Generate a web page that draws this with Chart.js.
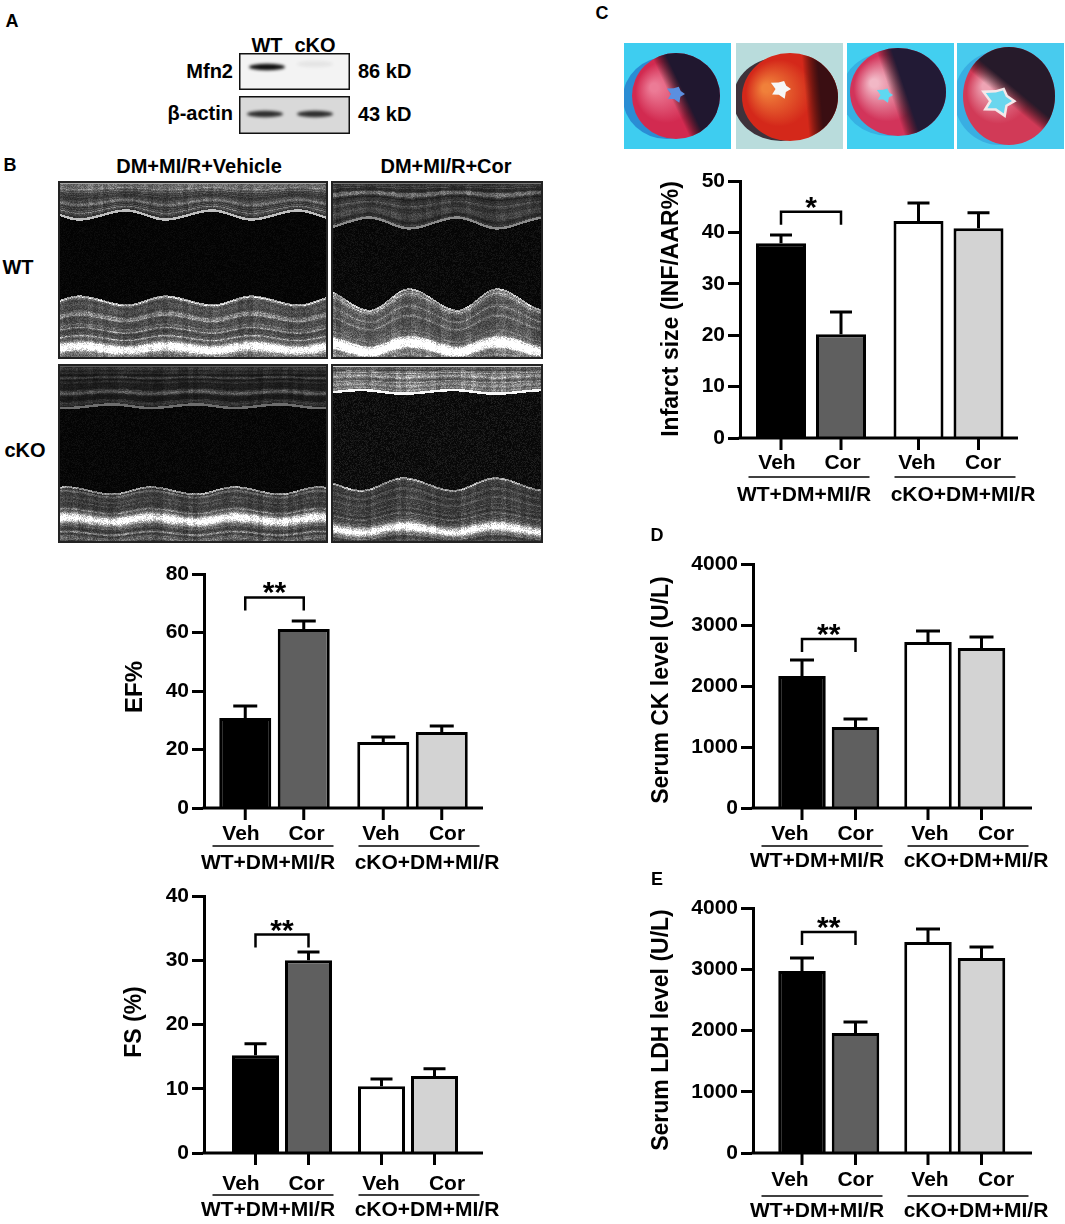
<!DOCTYPE html>
<html>
<head>
<meta charset="utf-8">
<script src="https://cdn.jsdelivr.net/npm/chart.js@4.4.1/dist/chart.umd.min.js"></script>
<style>
  body { margin: 0; background: #fff; width: 1065px; height: 1224px; position: relative; overflow: hidden;
         font-family: "Liberation Sans", Arial, sans-serif; font-weight: bold; color: #000; }
  .t { position: absolute; white-space: nowrap; line-height: 1; }
  canvas { position: absolute; }
</style>
</head>
<body>
<canvas id="infarctChart"></canvas>
<canvas id="efChart"></canvas>
<canvas id="fsChart"></canvas>
<canvas id="ckChart"></canvas>
<canvas id="ldhChart"></canvas>
<script>
const FONT = '"Liberation Sans", Arial, sans-serif';

// groups and treatments shared by every bar panel
const groups = ["WT+DM+MI/R", "cKO+DM+MI/R"];
const treatments = ["Veh", "Cor"];
// bar order: WT-Veh, WT-Cor, cKO-Veh, cKO-Cor
const barColors = ["#000000", "#5f5f5f", "#ffffff", "#d3d3d3"];

const infarctMean = [37.9, 20.2, 42.2, 40.8];
const infarctSem = [1.6, 4.3, 3.5, 3.0];
const infarctTicks = [0, 10, 20, 30, 40, 50];

const efMean = [30.8, 61.2, 22.6, 26.0];
const efSem = [4.1, 2.7, 1.7, 2.0];
const efTicks = [0, 20, 40, 60, 80];

const fsMean = [15.2, 30.0, 10.4, 12.0];
const fsSem = [1.8, 1.3, 1.1, 1.1];
const fsTicks = [0, 10, 20, 30, 40];

const ckMean = [2164, 1328, 2721, 2623];
const ckSem = [262, 131, 181, 180];
const ckTicks = [0, 1000, 2000, 3000, 4000];

const ldhMean = [2971, 1959, 3445, 3184];
const ldhSem = [213, 180, 212, 179];
const ldhTicks = [0, 1000, 2000, 3000, 4000];

// text helper: a = 'c' centre, 'r' right edge, 'l' left edge
function txt(str, x, y, size, a) {
  const d = document.createElement("div");
  d.className = "t";
  d.textContent = str;
  d.style.fontSize = size + "px";
  d.style.left = x + "px";
  d.style.top = y + "px";
  const tx = a === "r" ? "-100%" : a === "l" ? "0" : "-50%";
  d.style.transform = "translate(" + tx + ",-50%)";
  document.body.appendChild(d);
}

function makeCanvas(x, y, w, h) {
  const cv = document.createElement("canvas");
  cv.width = w; cv.height = h;
  cv.style.left = x + "px"; cv.style.top = y + "px";
  document.body.appendChild(cv);
  return cv;
}

function rng(seed) {
  let s = seed;
  return () => { s = (s * 1103515245 + 12345) & 0x7fffffff; return s / 0x7fffffff; };
}

// ---------- panel letters and headings ----------
txt("A", 12, 21, 18, "c");
txt("B", 10, 165, 18, "c");
txt("C", 602, 13, 18, "c");
txt("D", 657, 535, 18, "c");
txt("E", 657, 879, 18, "c");

// ---------- A: western blot ----------
txt("WT", 267, 45, 20, "c");
txt("cKO", 315, 45, 20, "c");
txt("Mfn2", 233, 71, 20, "r");
txt("\u03b2-actin", 233, 113, 20, "r");
txt("86 kD", 358, 71, 20, "l");
txt("43 kD", 358, 114, 20, "l");
(function drawBlot() {
  const boxes = [
    { y: 53, h: 37, bg: "#f3f3f3", bands: [[28, 14, 1.0], [76, 11, 0.06]] },
    { y: 96, h: 38, bg: "#d9d9d9", bands: [[26, 18, 0.85], [76, 18, 0.85]] }
  ];
  boxes.forEach(b => {
    const cv = makeCanvas(239, b.y, 111, b.h);
    const c = cv.getContext("2d");
    c.fillStyle = b.bg; c.fillRect(0, 0, 111, b.h);
    c.filter = "blur(1.6px)";
    b.bands.forEach(([bx, by, a]) => {
      c.fillStyle = "rgba(15,15,15," + a + ")";
      c.beginPath(); c.ellipse(bx, by, 18, 3.2, 0, 0, Math.PI * 2); c.fill();
    });
    c.filter = "none";
    c.strokeStyle = "#111"; c.lineWidth = 1.5; c.strokeRect(0.75, 0.75, 109.5, b.h - 1.5);
  });
})();

// ---------- B: M-mode echo images ----------
txt("DM+MI/R+Vehicle", 199, 166, 20, "c");
txt("DM+MI/R+Cor", 446, 166, 20, "c");
txt("WT", 18, 267, 20, "c");
txt("cKO", 25, 450, 20, "c");

const echoPanels = [
  { x: 58, y: 181, w: 270, h: 178, seed: 3, top: 0.17, bot: 0.69, aTop: 0.05, aBot: 0.05, period: 86, phase: 18, topI: 165, floor: 0.95, floorI: 240, cav: 8, sub: 70 },
  { x: 331, y: 181, w: 212, h: 178, seed: 7, top: 0.21, bot: 0.72, aTop: 0.06, aBot: 0.12, period: 88, phase: 50, topI: 120, floor: 0.96, floorI: 255, cav: 14, sub: 85 },
  { x: 58, y: 364, w: 270, h: 179, seed: 11, top: 0.23, bot: 0.72, aTop: 0.02, aBot: 0.04, period: 84, phase: 30, topI: 95, floor: 0.88, floorI: 220, cav: 10, sub: 60 },
  { x: 331, y: 364, w: 212, h: 179, seed: 19, top: 0.15, bot: 0.70, aTop: 0.02, aBot: 0.07, period: 92, phase: 62, topI: 215, floor: 0.94, floorI: 220, cav: 20, sub: 55 }
];
echoPanels.forEach(p => {
  const cv = makeCanvas(p.x, p.y, p.w, p.h);
  const c = cv.getContext("2d");
  const img = c.createImageData(p.w, p.h);
  const r = rng(p.seed);
  const n = p.h * 4;
  const raw = []; for (let i = 0; i < n; i++) raw.push(r());
  const st = raw.map((v, i) => (v + raw[Math.max(i - 1, 0)] + raw[Math.min(i + 1, n - 1)]) / 3);
  const colJ = []; for (let i = 0; i < p.w; i++) colJ.push(r());
  for (let x = 0; x < p.w; x++) {
    const ph = ((x + p.phase) % p.period) / p.period;
    let w = ph < 0.45 ? ph / 0.45 : (1 - ph) / 0.55;
    w = w * w * (3 - 2 * w);
    const tb = p.h * (p.top + p.aTop * w);
    const bb = p.h * (p.bot - p.aBot * w);
    const cj = 0.85 + 0.3 * colJ[Math.floor(x / 5) % p.w];
    for (let y = 0; y < p.h; y++) {
      const nz = r();
      let v;
      if (y < tb) {
        const yy = y - p.h * p.aTop * w * (y / tb);
        const s = st[Math.floor(yy * 1.2 + 20) % n];
        v = p.topI * (0.25 + 1.0 * s * s) * (0.75 + 0.5 * nz) * cj;
        if (tb - y < 2.5) v = Math.max(v, p.topI * 1.15);
        if (y < 3) v = Math.max(v, p.topI);
      } else if (y > bb) {
        const d = y - bb;
        const yy = y + p.aBot * p.h * w * Math.exp(-d / 70);
        const s = st[Math.floor(yy * 1.4 + 200) % n];
        let base = p.sub + 130 * s * s * s;
        const fd = (yy - p.h * p.floor) / 4.5;
        base += p.floorI * Math.exp(-fd * fd);
        if (d < 2) base += 90;
        v = base * (0.7 + 0.55 * nz) * cj;
      } else {
        v = p.cav * (0.3 + 1.4 * nz * nz);
      }
      v = Math.max(0, Math.min(255, v));
      const k = (y * p.w + x) * 4;
      img.data[k] = img.data[k + 1] = img.data[k + 2] = v;
      img.data[k + 3] = 255;
    }
  }
  c.putImageData(img, 0, 0);
  c.strokeStyle = "#222"; c.lineWidth = 2; c.strokeRect(1, 1, p.w - 2, p.h - 2);
});

// ---------- C: TTC-stained heart slices ----------
const hearts = [
  { x: 624, bg: "#3ecdf0", shadow: "rgba(25,90,190,0.55)", cx: 52, cy: 53, rx: 44, ry: 43, light: "#ec7b96", red: "#d22a50", dark: "#20172f", ang: -0.45, cut: 0.52, lx: 52, ly: 51, lr: 9, lumen: "#5b8fe0", ring: false },
  { x: 736, bg: "#b9dcdc", shadow: "rgba(40,20,30,0.85)", cx: 54, cy: 54, rx: 48, ry: 44, light: "#f0803a", red: "#d4281a", dark: "#3a0e12", ang: -0.1, cut: 0.74, lx: 45, ly: 46, lr: 10, lumen: "#f6f6f6", ring: false },
  { x: 847, bg: "#42cff0", shadow: "rgba(40,140,210,0.45)", cx: 51, cy: 49, rx: 48, ry: 44, light: "#f2b8c6", red: "#d2345a", dark: "#221a35", ang: -0.35, cut: 0.5, lx: 38, ly: 52, lr: 8, lumen: "#5fd8f0", ring: false },
  { x: 957, bg: "#48cbee", shadow: "rgba(40,140,210,0.45)", cx: 52, cy: 53, rx: 46, ry: 49, light: "#eea4b4", red: "#d13a57", dark: "#261a2a", ang: -0.85, cut: 0.52, lx: 42, ly: 58, lr: 13, lumen: "#6ad6ee", ring: true }
];
const lumenShape = [1.0, 0.6, 1.2, 0.7, 1.1, 0.55, 1.25, 0.8, 1.0, 0.65];
hearts.forEach(h => {
  const cv = makeCanvas(h.x, 43, 107, 106);
  const c = cv.getContext("2d");
  c.fillStyle = h.bg; c.fillRect(0, 0, 107, 106);
  c.fillStyle = h.shadow;
  c.beginPath(); c.ellipse(h.cx - 9, h.cy + 2, h.rx, h.ry - 2, 0, 0, Math.PI * 2); c.fill();
  c.save();
  c.beginPath(); c.ellipse(h.cx, h.cy, h.rx, h.ry, 0, 0, Math.PI * 2); c.clip();
  const rg = c.createRadialGradient(h.cx - h.rx * 0.5, h.cy - h.ry * 0.2, 4, h.cx, h.cy, h.rx * 1.2);
  rg.addColorStop(0, h.light); rg.addColorStop(0.55, h.red); rg.addColorStop(1, h.red);
  c.fillStyle = rg; c.fillRect(0, 0, 107, 106);
  const dx = Math.cos(h.ang), dy = Math.sin(h.ang);
  const lg = c.createLinearGradient(h.cx - dx * h.rx, h.cy - dy * h.ry, h.cx + dx * h.rx, h.cy + dy * h.ry);
  lg.addColorStop(0, "rgba(0,0,0,0)");
  lg.addColorStop(h.cut - 0.08, "rgba(0,0,0,0)");
  lg.addColorStop(h.cut + 0.08, h.dark);
  lg.addColorStop(1, h.dark);
  c.fillStyle = lg; c.fillRect(0, 0, 107, 106);
  c.restore();
  c.beginPath();
  lumenShape.forEach((m, i) => {
    const a = i / lumenShape.length * Math.PI * 2;
    const px = h.lx + Math.cos(a) * h.lr * m, py = h.ly + Math.sin(a) * h.lr * m * 0.85;
    if (i === 0) c.moveTo(px, py); else c.lineTo(px, py);
  });
  c.closePath();
  if (h.ring) { c.strokeStyle = "#f5e8ea"; c.lineWidth = 5; c.stroke(); }
  c.fillStyle = h.lumen; c.fill();
});

// ---------- bar panels ----------
// horizontal label positions, measured from the y axis line
const labelX = [37, 102.5, 177, 243];
const underlineX = [69, 215];
const groupLabelX = [64, 223];

function decor(s) {
  const ox = s.box[0], oy = s.box[1];
  return {
    id: "decor",
    afterLayout(chart) {
      // narrow the category scale so the two bar groups sit where the figure has them
      const W = s.groupX[1] - s.groupX[0];
      const xs = chart.scales.x;
      xs.left = s.groupX[0] - W / 2 - ox;
      xs.right = s.groupX[1] + W / 2 - ox;
      xs.width = xs.right - xs.left;
      xs.configure();
    },
    afterDraw(chart) {
      const c = chart.ctx;
      const y = chart.scales.y;
      const ax = chart.chartArea.left, zy = chart.chartArea.bottom, ex = chart.chartArea.right;
      c.save();
      c.strokeStyle = "#000"; c.fillStyle = "#000"; c.lineWidth = 3;
      c.beginPath(); c.moveTo(ax - 1.5, zy); c.lineTo(ex, zy); c.stroke();
      const centers = [];
      groups.forEach((g, i) => treatments.forEach((t, k) => {
        const bar = chart.getDatasetMeta(k).data[i];
        const j = i * 2 + k;
        centers[j] = bar.x;
        const top = y.getPixelForValue(s.mean[j] + s.sem[j]);
        c.beginPath();
        c.moveTo(bar.x, bar.y); c.lineTo(bar.x, top);
        c.moveTo(bar.x - s.cap / 2, top); c.lineTo(bar.x + s.cap / 2, top);
        c.stroke();
        c.beginPath(); c.moveTo(bar.x, zy); c.lineTo(bar.x, zy + 12); c.stroke();
      }));
      // category labels
      c.font = "bold 21px " + FONT; c.textAlign = "center"; c.textBaseline = "middle";
      groups.forEach((g, i) => {
        treatments.forEach((t, k) => c.fillText(t, ax + labelX[i * 2 + k], zy + s.off[0]));
        c.lineWidth = 1.5;
        c.beginPath();
        c.moveTo(ax + underlineX[i] - 60.5, zy + s.off[1]);
        c.lineTo(ax + underlineX[i] + 60.5, zy + s.off[1]);
        c.stroke();
        c.fillText(g, ax + groupLabelX[i], zy + s.off[2]);
      });
      // significance bracket
      const by = y.getPixelForValue(s.bracket);
      c.lineWidth = 2.5;
      c.beginPath();
      c.moveTo(centers[0], by + 13); c.lineTo(centers[0], by); c.lineTo(centers[1], by); c.lineTo(centers[1], by + 13);
      c.stroke();
      c.font = "bold 30px " + FONT; c.textBaseline = "alphabetic";
      c.fillText(s.stars, (centers[0] + centers[1]) / 2, by + 5);
      // y title
      c.translate(s.titleXY[0] - ox, s.titleXY[1] - oy);
      c.rotate(-Math.PI / 2);
      c.font = "bold " + s.titleSize + "px " + FONT; c.textBaseline = "middle";
      c.fillText(s.title, 0, 0);
      c.restore();
    }
  };
}

function barChart(id, s) {
  const cv = document.getElementById(id);
  cv.style.left = s.box[0] + "px"; cv.style.top = s.box[1] + "px";
  cv.width = s.box[2]; cv.height = s.box[3];
  const W = s.groupX[1] - s.groupX[0];
  return new Chart(cv, {
    type: "bar",
    data: {
      labels: groups,
      datasets: treatments.map((t, k) => ({
        label: t,
        data: groups.map((g, i) => s.mean[i * 2 + k]),
        backgroundColor: groups.map((g, i) => barColors[i * 2 + k]),
        borderColor: "#000",
        borderWidth: 3,
        categoryPercentage: 2 * s.spacing / W,
        barPercentage: s.barW / s.spacing
      }))
    },
    plugins: [decor(s)],
    options: {
      responsive: false,
      animation: false,
      layout: { padding: { left: 0, top: s.top - s.box[1], right: s.box[0] + s.box[2] - s.axisEnd, bottom: s.box[1] + s.box[3] - s.zero } },
      plugins: { legend: { display: false }, tooltip: { enabled: false } },
      scales: {
        x: { display: false },
        y: {
          min: 0,
          max: s.ticks[s.ticks.length - 1],
          afterFit: sc => { sc.width = s.axisX - s.box[0]; },
          afterBuildTicks: sc => { sc.ticks = s.ticks.map(v => ({ value: v })); },
          grid: { drawOnChartArea: false, drawTicks: true, tickLength: 12, tickWidth: 3, tickColor: "#000" },
          border: { display: true, width: 3, color: "#000" },
          ticks: { color: "#000", font: { family: FONT, size: 21, weight: "bold" }, padding: 3, callback: v => String(v) }
        }
      }
    }
  });
}

barChart("infarctChart", {
  box: [600, 156, 465, 354], axisX: 740, axisEnd: 1018, top: 181, zero: 438,
  groupX: [811, 948.5], spacing: 60, barW: 50, cap: 22,
  mean: infarctMean, sem: infarctSem, ticks: infarctTicks,
  bracket: 44, stars: "*", off: [25, 39, 57],
  title: "Infarct size (INF/AAR%)", titleXY: [672, 309], titleSize: 23
});
barChart("efChart", {
  box: [100, 548, 440, 332], axisX: 204, axisEnd: 483, top: 574, zero: 808,
  groupX: [274.5, 412.5], spacing: 58.5, barW: 52, cap: 24,
  mean: efMean, sem: efSem, ticks: efTicks,
  bracket: 72, stars: "**", off: [26, 38, 55],
  title: "EF%", titleXY: [135, 687], titleSize: 24
});
barChart("fsChart", {
  box: [100, 870, 440, 354], axisX: 204, axisEnd: 483, top: 896, zero: 1153,
  groupX: [282, 408], spacing: 53, barW: 47, cap: 22,
  mean: fsMean, sem: fsSem, ticks: fsTicks,
  bracket: 34, stars: "**", off: [31, 42, 57],
  title: "FS (%)", titleXY: [135, 1022], titleSize: 23
});
barChart("ckChart", {
  box: [640, 538, 425, 342], axisX: 753, axisEnd: 1032, top: 564, zero: 808,
  groupX: [828.75, 954.75], spacing: 53.5, barW: 47.5, cap: 24,
  mean: ckMean, sem: ckSem, ticks: ckTicks,
  bracket: 2770, stars: "**", off: [26, 38, 53],
  title: "Serum CK level (U/L)", titleXY: [662, 690], titleSize: 23
});
barChart("ldhChart", {
  box: [640, 882, 425, 342], axisX: 753, axisEnd: 1032, top: 908, zero: 1153,
  groupX: [828.75, 954.75], spacing: 53.5, barW: 47.5, cap: 24,
  mean: ldhMean, sem: ldhSem, ticks: ldhTicks,
  bracket: 3608, stars: "**", off: [27, 43, 58],
  title: "Serum LDH level (U/L)", titleXY: [662, 1030], titleSize: 23
});
</script>
</body>
</html>
